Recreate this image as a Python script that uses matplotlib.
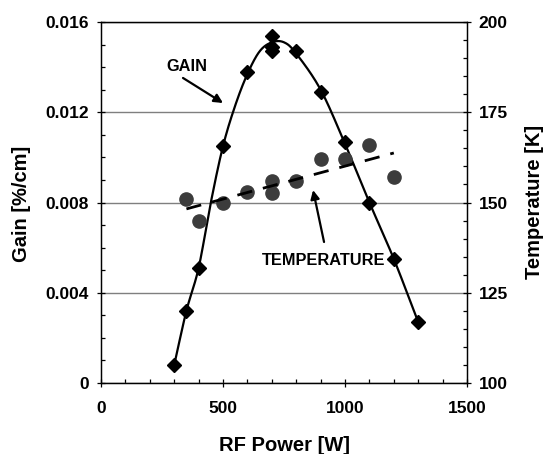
import matplotlib.pyplot as plt
import numpy as np
from matplotlib.ticker import MultipleLocator

# measured gain (left axis)
GAIN_POWER = [300, 350, 400, 500, 600, 700, 700, 700, 800, 900, 1000, 1100, 1200, 1300]
GAIN = [0.0008, 0.0032, 0.0051, 0.0105, 0.0138, 0.0154, 0.0149, 0.0147,
        0.0147, 0.0129, 0.0107, 0.0080, 0.0055, 0.0027]

# nodes of the hand-drawn gain curve
FIT_POWER = [300, 350, 400, 450, 500, 550, 600, 650, 700, 750, 800, 900, 1000, 1100, 1200, 1300]
FIT_GAIN = [0.0008, 0.0032, 0.0051, 0.0080, 0.0105, 0.0123, 0.0137, 0.0147, 0.0151,
            0.0151, 0.0146, 0.0130, 0.0106, 0.0080, 0.0055, 0.0027]

# measured temperature (right axis)
TEMP_POWER = [350, 400, 500, 600, 700, 700, 800, 900, 1000, 1100, 1200]
TEMP = [151, 145, 150, 153, 156, 152.7, 156, 162, 162, 166, 157]


def catmull_rom(xs, ys, n=20):
    x = np.asarray(xs, float)
    y = np.asarray(ys, float)
    px = np.concatenate([[2 * x[0] - x[1]], x, [2 * x[-1] - x[-2]]])
    py = np.concatenate([[2 * y[0] - y[1]], y, [2 * y[-1] - y[-2]]])
    t = np.linspace(0, 1, n, endpoint=False)[:, None]
    out_x, out_y = [], []
    for i in range(1, len(px) - 2):
        for p, out in ((px, out_x), (py, out_y)):
            p0, p1, p2, p3 = p[i - 1], p[i], p[i + 1], p[i + 2]
            seg = 0.5 * (2 * p1 + (-p0 + p2) * t + (2 * p0 - 5 * p1 + 4 * p2 - p3) * t ** 2
                         + (-p0 + 3 * p1 - 3 * p2 + p3) * t ** 3)
            out.extend(seg.ravel())
    out_x.append(x[-1])
    out_y.append(y[-1])
    return np.array(out_x), np.array(out_y)


plt.rcParams["font.family"] = ["Liberation Sans", "DejaVu Sans"]
plt.rcParams["font.weight"] = "bold"

fig = plt.figure(figsize=(5.44, 4.54), dpi=100)
ax = fig.add_axes([0.1857, 0.1564, 0.6728, 0.7951])
ax2 = ax.twinx()

for a in (ax, ax2):
    for s in a.spines.values():
        s.set_linewidth(0.9)

ax.set_xlim(0, 1500)
ax.set_ylim(0, 0.016)
ax2.set_ylim(100, 200)

ax.xaxis.set_major_locator(MultipleLocator(500))
ax.xaxis.set_minor_locator(MultipleLocator(100))
ax.yaxis.set_minor_locator(MultipleLocator(0.001))
ax2.yaxis.set_major_locator(MultipleLocator(25))
ax2.yaxis.set_minor_locator(MultipleLocator(5))

ax.set_yticks([0, 0.004, 0.008, 0.012, 0.016])
ax.set_yticklabels(["0", "0.004", "0.008", "0.012", "0.016"])

ax.grid(True, axis="y", which="major", color="#7f7f7f", linewidth=1.0)
ax.set_axisbelow(True)

for a in (ax, ax2):
    a.tick_params(which="major", direction="inout", length=5.8, width=0.9, labelsize=12.5)
    a.tick_params(which="minor", direction="in", length=2.9, width=0.9)
ax.tick_params(axis="x", which="major", pad=10)
ax.tick_params(axis="y", which="major", pad=5.8)
ax2.tick_params(axis="y", which="major", pad=5.5)

fx, fy = catmull_rom(FIT_POWER, FIT_GAIN)
ax.plot(fx, fy, color="black", linewidth=1.6, zorder=3)
ax.plot(GAIN_POWER, GAIN, linestyle="none", marker="D", markersize=7.5,
        color="black", zorder=4)

slope, icpt = np.polyfit(TEMP_POWER, TEMP, 1)
lx = np.array([min(TEMP_POWER), max(TEMP_POWER)])
ax2.plot(TEMP_POWER, TEMP, linestyle="none", marker="o", markersize=9.5,
         color="#3c3c3c", zorder=2)
ax2.plot(lx, slope * lx + icpt, color="black", linewidth=2.0,
         dashes=(5.5, 4), zorder=3)

fig.text(0.5221, 0.006, "RF Power [W]", fontsize=14.5, fontweight="bold",
         ha="center", va="baseline")
fig.text(0.040, 0.552, "Gain [%/cm]", fontsize=14.5, fontweight="bold",
         ha="center", va="center", rotation=90)
fig.text(0.982, 0.556, "Temperature [K]", fontsize=14.5, fontweight="bold",
         ha="center", va="center", rotation=90)

ax.text(352, 0.01405, "GAIN", fontsize=11.8, fontweight="bold",
        ha="center", va="center")
ax.annotate("", xy=(500, 0.01241), xytext=(336, 0.01352),
            arrowprops=dict(arrowstyle="-|>", color="black", lw=1.6,
                            mutation_scale=13, shrinkA=0, shrinkB=0))
ax.text(914, 0.00545, "TEMPERATURE", fontsize=11.8, fontweight="bold",
        ha="center", va="center")
ax.annotate("", xy=(869, 0.00855), xytext=(914, 0.00625),
            arrowprops=dict(arrowstyle="-|>", color="black", lw=1.6,
                            mutation_scale=13, shrinkA=0, shrinkB=0))

fig.savefig("out.png", dpi=100)
